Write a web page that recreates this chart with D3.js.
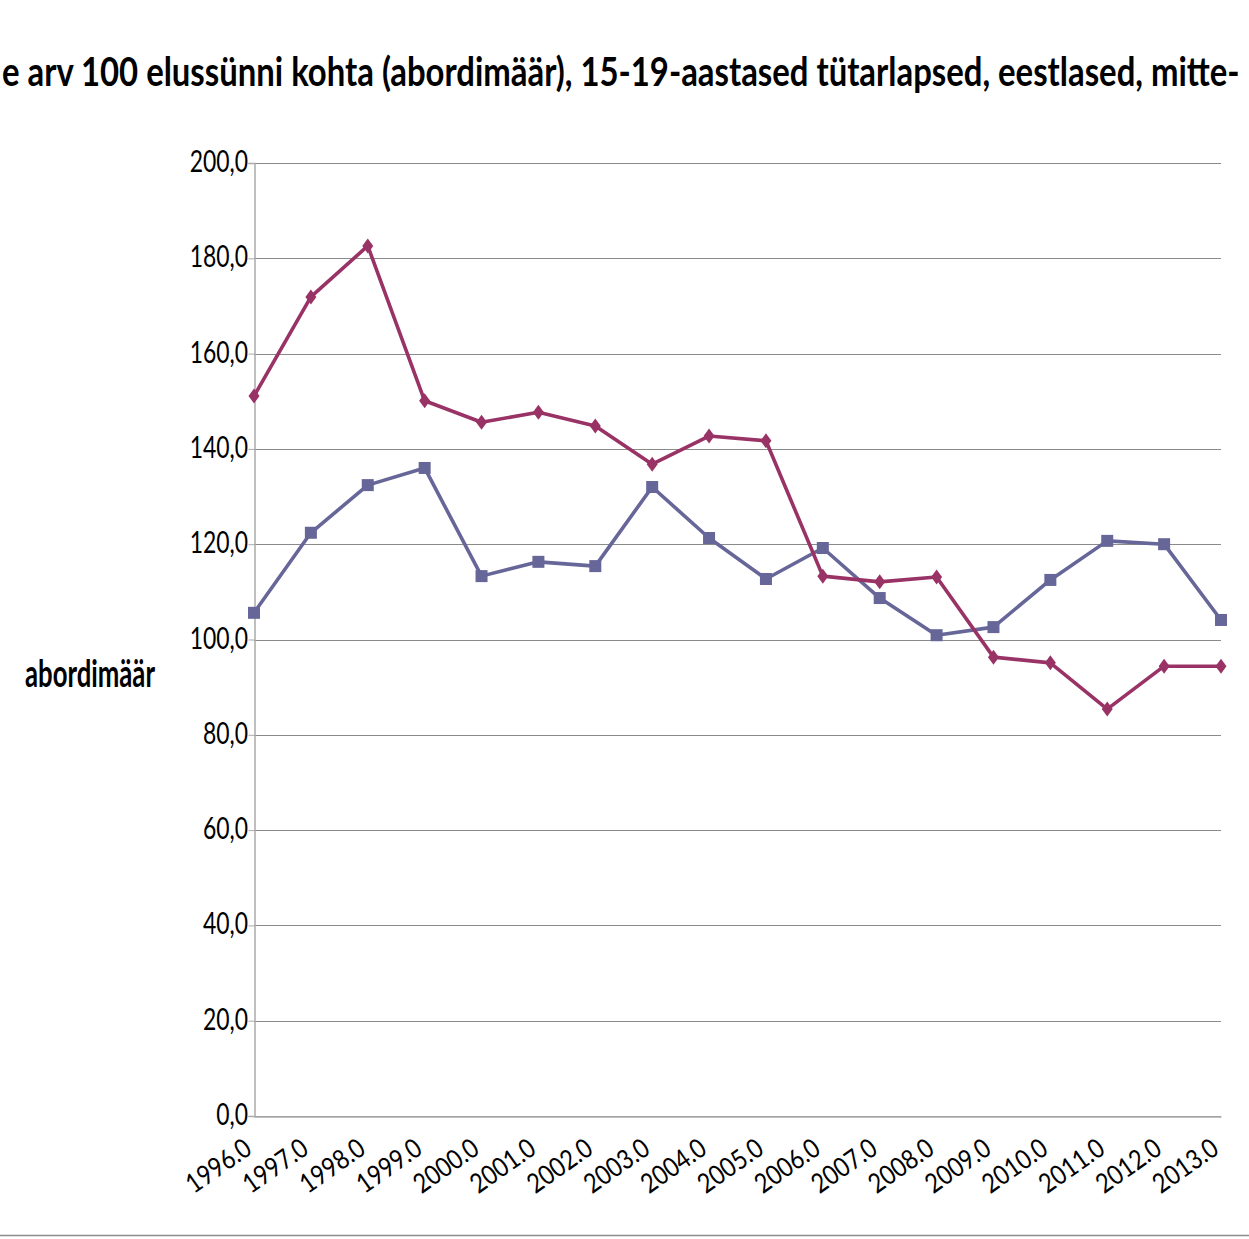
<!DOCTYPE html>
<html>
<head>
<meta charset="utf-8">
<script src="https://cdn.jsdelivr.net/npm/d3@7"></script>
<style>
  html, body { margin: 0; padding: 0; background: #fff; overflow: hidden; }
  svg { display: block; }
  text { font-family: Lato, "Open Sans", sans-serif; }
</style>
</head>
<body>
<svg id="chart" width="1249" height="1239"></svg>
<script>
// Years on the category axis
const years = [1996, 1997, 1998, 1999, 2000, 2001, 2002, 2003, 2004,
               2005, 2006, 2007, 2008, 2009, 2010, 2011, 2012, 2013];

// Abortion rate per 100 live births, girls aged 15-19
const seriesA = [151.1, 171.9, 182.6, 150.1, 145.6, 147.7, 144.8, 136.8, 142.7,
                 141.7, 113.3, 112.1, 113.1, 96.3, 95.1, 85.4, 94.4, 94.4];
const seriesB = [105.6, 122.4, 132.4, 136.0, 113.3, 116.3, 115.4, 132.0, 121.3,
                 112.7, 119.2, 108.7, 100.9, 102.6, 112.5, 120.7, 120.0, 104.1];

const yTicks = [0, 20, 40, 60, 80, 100, 120, 140, 160, 180, 200];

// Visible part of the (long) chart title
const titleText = "e arv 100 elussünni kohta (abordimäär), 15-19-aastased tütarlapsed, eestlased, mitte-";
const yAxisLabel = "abordimäär";

const svg = d3.select("#chart");
const W = 1249;
const plot = { left: 254, right: 1221, top: 163, bottom: 1116 };

const x = d3.scalePoint().domain(years).range([plot.left, plot.right]);
const y = d3.scaleLinear().domain([0, 200]).range([plot.bottom, plot.top]);

// Title, squeezed horizontally to fit the available width
const title = svg.append("text")
  .attr("x", 0)
  .attr("y", 0)
  .attr("font-size", 41)
  .attr("font-weight", "bold")
  .attr("fill", "#000")
  .text(titleText);
const titleWidth = title.node().getComputedTextLength();
title.attr("transform", `translate(2,86) scale(${1238 / titleWidth},1)`);

// Horizontal gridlines
svg.append("g")
  .selectAll("line")
  .data(yTicks)
  .join("line")
  .attr("x1", plot.left)
  .attr("x2", plot.right)
  .attr("y1", d => Math.round(y(d)) + 0.5)
  .attr("y2", d => Math.round(y(d)) + 0.5)
  .attr("stroke", "#8a8a8a")
  .attr("stroke-width", 1.2);

// Y axis
const yAxis = d3.axisLeft(y)
  .tickValues(yTicks)
  .tickSize(6)
  .tickFormat(d => d3.format(".1f")(d).replace(".", ","));

const gy = svg.append("g")
  .attr("transform", `translate(${plot.left + 0.5},0)`)
  .call(yAxis);
gy.select(".domain").attr("stroke", "#aaaaaa").attr("stroke-width", 1.5);
gy.selectAll(".tick line").attr("stroke", "#aaaaaa");
gy.selectAll(".tick text")
  .attr("font-size", 31)
  .attr("font-family", "Lato, sans-serif")
  .attr("fill", "#000")
  .attr("x", -8.7)
  .attr("y", 8.5)
  .attr("dy", 0)
  .attr("transform", "scale(0.74,1)");

// X axis with rotated year labels
const xAxis = d3.axisBottom(x)
  .tickSize(0)
  .tickFormat(d => d3.format(".1f")(d));

const gx = svg.append("g")
  .attr("transform", `translate(0,${plot.bottom + 0.5})`)
  .call(xAxis);
gx.select(".domain").attr("stroke", "#aaaaaa").attr("stroke-width", 1.5);
gx.selectAll(".tick text")
  .attr("font-size", 27)
  .attr("font-family", "Lato, sans-serif")
  .attr("fill", "#000")
  .attr("text-anchor", "end")
  .attr("x", 0)
  .attr("y", 0)
  .attr("dy", 0)
  .attr("transform", "translate(-1,36) rotate(-35) scale(0.86,1)");

// Y axis title
svg.append("text")
  .attr("x", 25)
  .attr("y", 687)
  .attr("font-size", 38)
  .attr("font-weight", "bold")
  .attr("fill", "#000")
  .attr("textLength", 130)
  .attr("lengthAdjust", "spacingAndGlyphs")
  .text(yAxisLabel);

// Lines and markers
const line = d3.line()
  .x((d, i) => x(years[i]))
  .y(d => y(d));

const colA = "#993366";
const colB = "#666699";

svg.append("path")
  .datum(seriesB)
  .attr("d", line)
  .attr("fill", "none")
  .attr("stroke", colB)
  .attr("stroke-width", 3.6)
  .attr("stroke-linejoin", "round");

svg.append("path")
  .datum(seriesA)
  .attr("d", line)
  .attr("fill", "none")
  .attr("stroke", colA)
  .attr("stroke-width", 3.6)
  .attr("stroke-linejoin", "round");

const sq = 12;
svg.append("g")
  .selectAll("rect")
  .data(seriesB)
  .join("rect")
  .attr("x", (d, i) => x(years[i]) - sq / 2)
  .attr("y", d => y(d) - sq / 2)
  .attr("width", sq)
  .attr("height", sq)
  .attr("fill", colB);

svg.append("g")
  .selectAll("path")
  .data(seriesA)
  .join("path")
  .attr("transform", (d, i) => `translate(${x(years[i])},${y(d)})`)
  .attr("d", "M0,-7.5L5.5,0L0,7.5L-5.5,0Z")
  .attr("fill", colA);

// Bottom frame line
svg.append("line")
  .attr("x1", 0).attr("x2", W)
  .attr("y1", 1235.5).attr("y2", 1235.5)
  .attr("stroke", "#8c8c8c")
  .attr("stroke-width", 1.5);
</script>
</body>
</html>
